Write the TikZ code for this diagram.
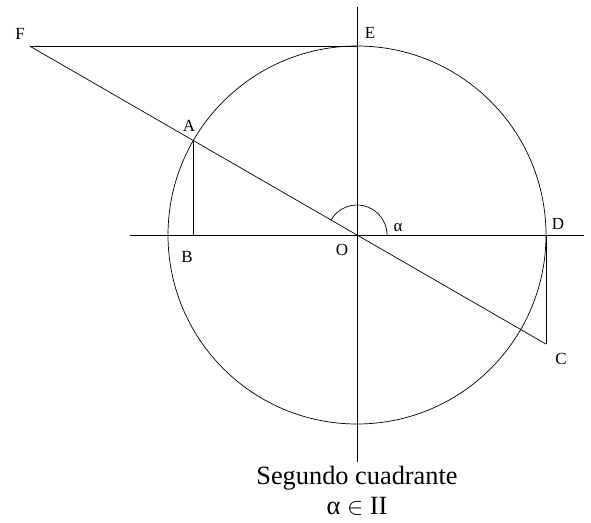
\documentclass[tikz,border=0pt]{standalone}
\usepackage{fontspec}
\setmainfont{Liberation Serif}
\usetikzlibrary{positioning}

\begin{document}
\begin{tikzpicture}[
        x=0.03cm, y=0.03cm,
        line width=0.6pt,
        lbl/.style={inner sep=0pt, font=\fontsize{14.5}{16}\selectfont},
        caption/.style={inner sep=0pt, align=center, font=\fontsize{22.5}{28}\selectfont}
    ]
        \useasboundingbox (-357,-287) rectangle (234,235);

        % points of the figure
        \coordinate (O) at (0,0);
        \coordinate (D) at (0:189);
        \coordinate (E) at (90:189);
        \coordinate (A) at (150:189);
        \coordinate (B) at (A |- O);
        \coordinate (F) at (-327.4,189);
        \coordinate (C) at (189,-109.1);
        \coordinate (xl) at (-227,0);
        \coordinate (xr) at (227,0);
        \coordinate (yt) at (0,228);
        \coordinate (yb) at (0,-227);

        % axes and circle
        \draw (xl) -- (xr);
        \draw (yt) -- (yb);
        \draw (O) circle[radius=189];

        % lines
        \draw (F) -- (E);
        \draw (F) -- (C);
        \draw (A) -- (B);
        \draw (D) -- (C);
        \draw (30,0) arc[start angle=0, end angle=150, radius=30];

        % labels
        \node[lbl] (lF) at (-337,201) {F};
        \node[lbl] (lE) at (13,202) {E};
        \node[lbl] (lA) at (-168,109) {A};
        \node[lbl] (lB) at (-170,-22) {B};
        \node[lbl] (lO) at (-15,-15) {O};
        \node[lbl] (lal) at (41,7) {α};
        \node[lbl] (lD) at (201,11) {D};
        \node[lbl] (lC) at (204,-124) {C};

        \node[caption] (cap) at (0,-243) {Segundo cuadrante};
        \node[caption, below=6pt of cap] (cap2) {α \ensuremath{\in} II};
    \end{tikzpicture}
\end{document}
